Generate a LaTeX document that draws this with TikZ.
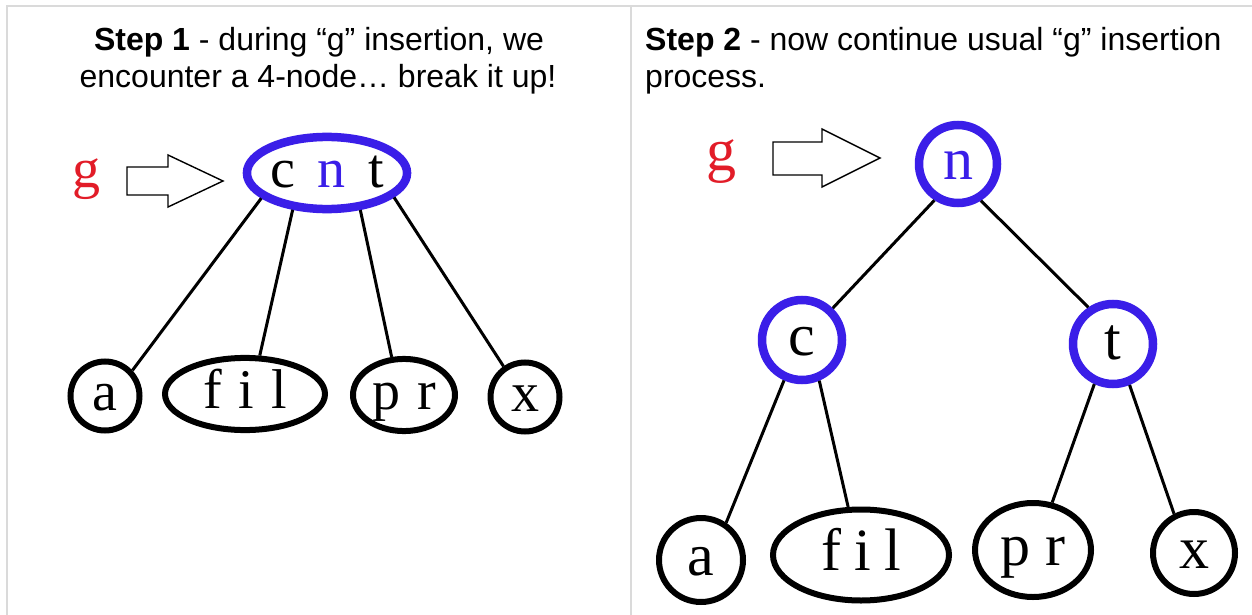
\documentclass[tikz,border=0pt]{standalone}
\usepackage{fontspec}
\setmainfont{Liberation Serif}
\newfontfamily\hdfont{Liberation Sans}
\usetikzlibrary{shapes.geometric}
\definecolor{ringblue}{RGB}{58,30,232}
\definecolor{gred}{RGB}{226,28,40}
\definecolor{rulegray}{RGB}{218,218,218}

\begin{document}
\begin{tikzpicture}[x=1pt,y=-1pt,
  every node/.style={inner sep=0pt},
  lbl/.style={font=\fontsize{56}{56}\selectfont, text height=40pt, text depth=11pt},
  lblR/.style={font=\fontsize{60}{60}\selectfont, text height=43pt, text depth=12pt},
  blue ring/.style={draw=ringblue, line width=8.5pt},
  black ring/.style={draw=black, line width=6pt},
  branch/.style={line width=3pt},
  hollow arrow/.style={draw=black, line width=1.4pt, fill=white, line join=miter},
  grid rule/.style={draw=rulegray, line width=2pt},
  head/.style={font=\hdfont\fontsize{32}{37}\selectfont, text=black}
]
% canvas
\fill[white] (0,0) rectangle (1252,615);
\useasboundingbox (0,0) rectangle (1252,615);

% table rules
\draw[grid rule] (7,615) -- (7,6) -- (1252,6);
\draw[grid rule] (631,6) -- (631,615);

% headings
\node[head, anchor=base] (h1a) at (319,51) {\textbf{Step 1} - during “g” insertion, we};
\node[head, anchor=base] (h1b) at (318,88) {encounter a 4-node… break it up!};
\node[head, anchor=base west] (h2a) at (645,51) {\textbf{Step 2} - now continue usual “g” insertion};
\node[head, anchor=base west] (h2b) at (645,88) {process.};

% ---- step 1: the 4-node ----
\node[font=\fontsize{56}{56}\selectfont, text=gred, anchor=base] (g1) at (86,187) {g};
\draw[hollow arrow] (127,167) -- (168,167) -- (168,155) -- (223,181) -- (168,207) -- (168,195) -- (127,195) -- cycle;
\node[lbl, blue ring, ellipse, minimum width=159.5pt, minimum height=64.5pt] (cnt) at (327,173)
  {c\hspace{.4em}\textcolor{ringblue}{n}\hspace{.4em}t};
\node[lbl, black ring, circle, minimum size=69pt] (a1) at (105,396) {a};
\node[lbl, black ring, ellipse, minimum width=160pt, minimum height=70pt] (fil1) at (245,394) {f\hspace{.3em}i\hspace{.3em}l};
\node[lbl, black ring, ellipse, minimum width=102pt, minimum height=70pt] (pr1) at (404,395) {p\hspace{.3em}r};
\node[lbl, black ring, circle, minimum size=69pt] (x1) at (525,397) {x};
\draw[branch] (cnt.201) -- (a1.43);
\draw[branch] (cnt.227) -- (fil1.69);
\draw[branch] (cnt.312) -- (pr1.108);
\draw[branch] (cnt.340) -- (x1.125);

% ---- step 2: split tree ----
\node[font=\fontsize{60}{60}\selectfont, text=gred, anchor=base] (g2) at (721,170) {g};
\draw[hollow arrow] (773,142) -- (822,142) -- (822,129) -- (880,158) -- (822,187) -- (822,175) -- (773,175) -- cycle;
\node[lblR, blue ring, circle, minimum size=78pt] (n2) at (958,164) {\textcolor{ringblue}{n}};
\node[lblR, blue ring, circle, minimum size=80pt] (c2) at (802,340) {c};
\node[lblR, blue ring, circle, minimum size=80pt] (t2) at (1113,344) {t};
\node[lblR, black ring, circle, minimum size=84pt] (a2) at (701,560) {a};
\node[lblR, black ring, ellipse, minimum width=176pt, minimum height=91pt] (fil2) at (861,555) {f\hspace{.22em}i\hspace{.22em}l};
\node[lblR, black ring, ellipse, minimum width=116pt, minimum height=94pt] (pr2) at (1033,550) {p\hspace{.24em}r};
\node[lblR, black ring, circle, minimum size=82pt] (x2) at (1194,553) {x};
\draw[branch] (n2.237) -- (c2.46);
\draw[branch] (n2.302) -- (t2.124);
\draw[branch] (c2.246) -- (a2.56);
\draw[branch] (c2.293) -- (fil2.105);
\draw[branch] (t2.245) -- (pr2.68);
\draw[branch] (t2.292) -- (x2.117);
\end{tikzpicture}
\end{document}
